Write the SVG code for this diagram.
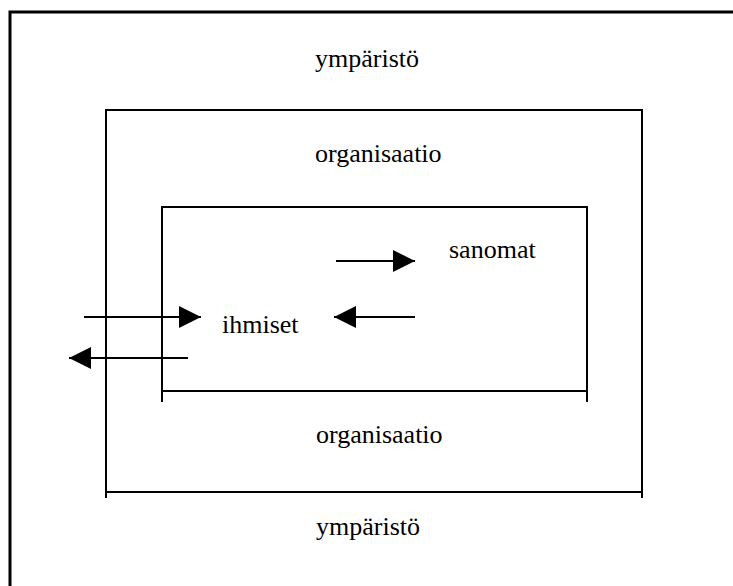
<svg xmlns="http://www.w3.org/2000/svg" width="733" height="586" viewBox="0 0 733 586">
  <style>
    .frame { fill: none; stroke: #000; stroke-width: 3; }
    .box { fill: none; stroke: #000; stroke-width: 2; }
    .flow { fill: none; stroke: #000; stroke-width: 2; marker-end: url(#head); }
    .label { font-family: "Liberation Serif", "Times New Roman", serif; font-size: 26px; fill: #000; }
  </style>
  <defs>
    <marker id="head" markerUnits="userSpaceOnUse" markerWidth="24" markerHeight="22" refX="22" refY="11" orient="auto">
      <path d="M0,0 L22,11 L0,22 Z" fill="#000"/>
    </marker>
  </defs>
  <rect width="733" height="586" fill="#fff"/>

  <!-- environment -->
  <g id="ymparisto">
    <path class="frame" d="M10,586 V12 H733"/>
    <text class="label" x="315" y="67">ympäristö</text>
    <text class="label" x="316" y="535">ympäristö</text>
  </g>

  <!-- organisation -->
  <g id="organisaatio">
    <path class="box" d="M106,498 V110 H642 V498 M106,492 H642"/>
    <text class="label" x="315" y="162">organisaatio</text>
    <text class="label" x="316" y="443">organisaatio</text>
  </g>

  <!-- people and messages -->
  <g id="ihmiset">
    <path class="box" d="M162,402 V207 H587 V402 M162,391 H587"/>
    <text class="label" x="222" y="333">ihmiset</text>
  </g>
  <g id="sanomat">
    <text class="label" x="449" y="258">sanomat</text>
  </g>

  <g id="connectors">
    <line class="flow" x1="84" y1="317" x2="201" y2="317"/>
    <line class="flow" x1="188" y1="358" x2="69" y2="358"/>
    <line class="flow" x1="336" y1="261" x2="415" y2="261"/>
    <line class="flow" x1="415" y1="317" x2="334" y2="317"/>
  </g>
</svg>
